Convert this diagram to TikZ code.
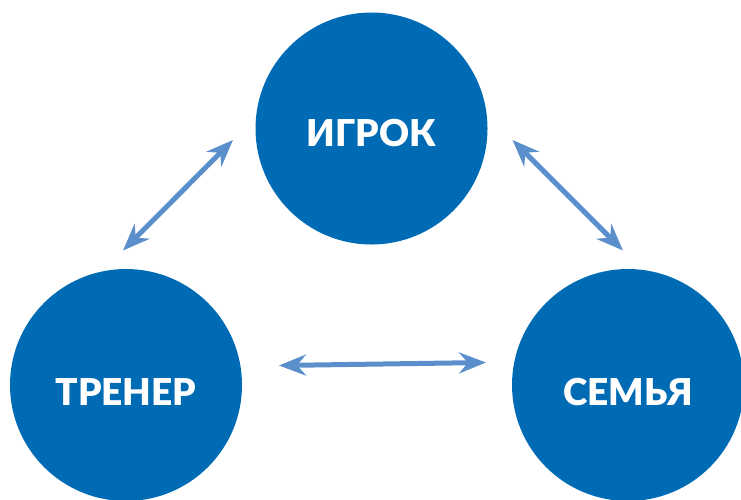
\documentclass[tikz,border=0pt]{standalone}
\usepackage{fontspec}
\newfontfamily\lblfont{Lato Black}
\usetikzlibrary{arrows.meta}
\definecolor{ballblue}{HTML}{006BB5}
\definecolor{linkblue}{HTML}{5B8FCB}
\begin{document}
\begin{tikzpicture}[x=1pt,y=-1pt,
  ball/.style={circle,fill=ballblue,draw=none,minimum size=232pt,inner sep=0pt},
  lbl/.style={text=white,font=\lblfont\fontsize{37}{40}\selectfont,anchor=base,inner sep=0pt},
  link/.style={draw=linkblue,line width=5pt,
    {Stealth[length=27pt,width=21pt,inset=9pt]}-{Stealth[length=27pt,width=21pt,inset=9pt]}}]
  \useasboundingbox (0,0) rectangle (741,499);
  \clip (0,0) rectangle (741,499);
  % the three parties
  \node[ball] (igrok) at (371.5,128.5) {};
  \node[ball] (trener) at (126,385) {};
  \node[ball] (semya) at (628,385) {};
  \node[lbl] (igrokt) at ([yshift=-18pt]igrok.center) {ИГРОК};
  \node[lbl] (trenert) at ([yshift=-20.5pt]trener.center) {ТРЕНЕР};
  \node[lbl] (semyat) at ([yshift=-20.5pt]semya.center) {СЕМЬЯ};
  % arrow ends between the circles
  \coordinate (tl1) at (233,140);
  \coordinate (tl2) at (123,250.5);
  \coordinate (tr1) at (512.5,140);
  \coordinate (tr2) at (623,250.5);
  \coordinate (b1) at (279,365.5);
  \coordinate (b2) at (486,362.5);
  \draw[link] (tl1) -- (tl2);
  \draw[link] (tr1) -- (tr2);
  \draw[link] (b1) -- (b2);
\end{tikzpicture}
\end{document}
